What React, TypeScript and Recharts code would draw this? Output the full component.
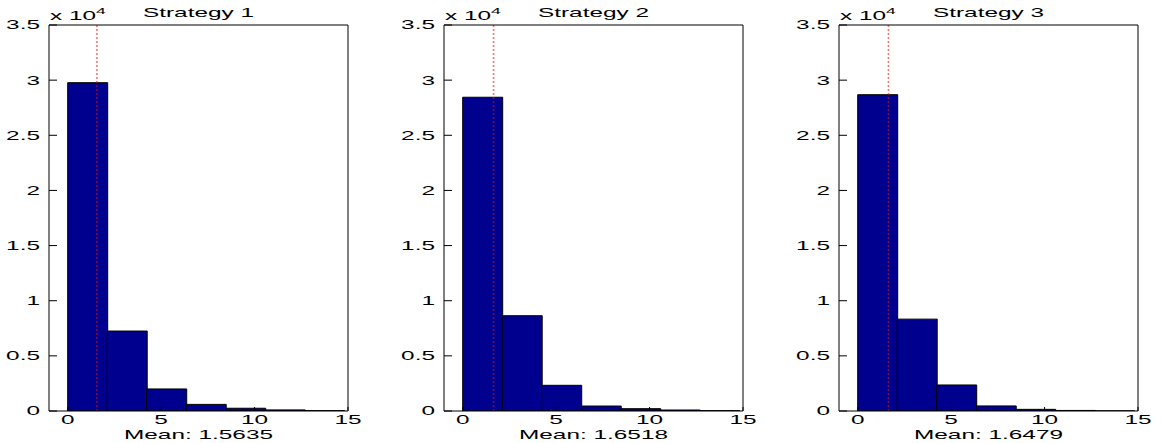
import React from 'react';
import { BarChart, Bar, XAxis, YAxis, ReferenceLine, Label } from 'recharts';

// histogram bins (centres), shared by the three panels
const binCenters = [1.057, 3.171, 5.286, 7.4, 9.514, 11.629, 13.743];

const titles = ['Strategy 1', 'Strategy 2', 'Strategy 3'];
const means = [1.5635, 1.6518, 1.6479];

const counts1 = [29770, 7250, 2000, 600, 250, 100, 30];
const counts2 = [28450, 8640, 2330, 450, 210, 90, 30];
const counts3 = [28680, 8330, 2360, 460, 150, 50, 10];

const xTicks = [0, 5, 10, 15];
const yTicks = [0, 5000, 10000, 15000, 20000, 25000, 30000, 35000];

const SX = 1.95; // text is stretched horizontally in the original
const FONT = '"Liberation Sans", Arial, Helvetica, sans-serif';
const FS = 12.5;

function XTick(props: any) {
  const { x, y, payload } = props;
  return (
    <g transform={`translate(${x},${y}) scale(${SX},1)`}>
      <text textAnchor="middle" dy="0.71em" fontSize={FS} fontFamily={FONT} fill="#000">
        {payload.value}
      </text>
    </g>
  );
}

function YTick(props: any) {
  const { x, y, payload } = props;
  return (
    <g transform={`translate(${x},${y}) scale(${SX},1)`}>
      <text textAnchor="end" dy="0.35em" fontSize={FS} fontFamily={FONT} fill="#000">
        {payload.value / 10000}
      </text>
    </g>
  );
}

function Hist({ title, mean, counts }: { title: string; mean: number; counts: number[] }) {
  const data = binCenters.map((c, i) => ({ c, n: counts[i] }));

  const titleLabel = (p: any) => {
    const vb = p.viewBox || {};
    return (
      <g transform={`translate(${vb.x + vb.width / 2},${vb.y - 7}) scale(${SX},1)`}>
        <text textAnchor="middle" fontSize={FS} fontFamily={FONT} fill="#000">{title}</text>
      </g>
    );
  };

  const meanLabel = (p: any) => {
    const vb = p.viewBox || {};
    return (
      <g transform={`translate(${vb.x + vb.width / 2},${vb.y + 28}) scale(${SX},1)`}>
        <text textAnchor="middle" fontSize={FS} fontFamily={FONT} fill="#000">
          {'Mean: ' + mean.toFixed(4)}
        </text>
      </g>
    );
  };

  const expLabel = (p: any) => {
    const vb = p.viewBox || {};
    return (
      <g transform={`translate(${vb.x + vb.width + 1},${vb.y - 5}) scale(${SX},1)`}>
        <text textAnchor="start" fontSize={FS} fontFamily={FONT} fill="#000">
          x 10
          <tspan fontSize={9} dy={-6}>4</tspan>
        </text>
      </g>
    );
  };

  return (
    <BarChart
      width={371}
      height={443}
      data={data}
      margin={{ top: 24, right: 22, bottom: 0, left: 8 }}
      barCategoryGap={0}
      barGap={0}
    >
      <XAxis
        xAxisId="b"
        dataKey="c"
        type="number"
        domain={[-1, 15]}
        ticks={xTicks}
        interval={0}
        allowDataOverflow
        height={32}
        tickSize={-4}
        tickMargin={8}
        stroke="#000"
        tickLine={{ stroke: '#000' }}
        tick={<XTick />}
      >
        <Label content={meanLabel} />
      </XAxis>
      <XAxis
        xAxisId="t"
        orientation="top"
        dataKey="c"
        type="number"
        domain={[-1, 15]}
        ticks={xTicks}
        interval={0}
        allowDataOverflow
        height={1}
        tickSize={-4}
        stroke="#000"
        tickLine={{ stroke: '#000' }}
        tick={false}
      >
        <Label content={titleLabel} />
      </XAxis>
      <YAxis
        yAxisId="l"
        type="number"
        domain={[0, 35000]}
        ticks={yTicks}
        interval={0}
        allowDataOverflow
        width={41}
        tickSize={-8}
        tickMargin={17}
        stroke="#000"
        tickLine={{ stroke: '#000' }}
        tick={<YTick />}
      >
        <Label content={expLabel} />
      </YAxis>
      <YAxis
        yAxisId="r"
        orientation="right"
        type="number"
        domain={[0, 35000]}
        ticks={yTicks}
        interval={0}
        allowDataOverflow
        width={1}
        tickSize={-8}
        stroke="#000"
        tickLine={{ stroke: '#000' }}
        tick={false}
      />
      <Bar
        xAxisId="b"
        yAxisId="l"
        dataKey="n"
        fill="#00008f"
        stroke="#000"
        strokeWidth={1}
        isAnimationActive={false}
      />
      <ReferenceLine
        xAxisId="b"
        yAxisId="l"
        x={mean}
        stroke="#ff0000"
        strokeOpacity={0.55}
        strokeWidth={1.6}
        strokeDasharray="2 2"
      />
    </BarChart>
  );
}

export default function App() {
  const sets = [counts1, counts2, counts3];
  return (
    <div style={{ position: 'absolute', left: 0, top: 0, width: 1161, height: 443, background: '#fff' }}>
      {sets.map((c, i) => (
        <div key={i} style={{ position: 'absolute', left: 395 * i, top: 0 }}>
          <Hist title={titles[i]} mean={means[i]} counts={c} />
        </div>
      ))}
    </div>
  );
}
